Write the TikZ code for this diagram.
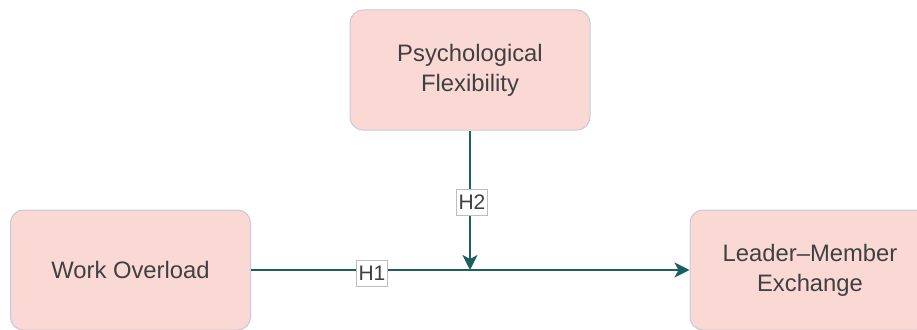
\documentclass[tikz,border=0pt]{standalone}
\usepackage{fontspec}
\setmainfont{Liberation Sans}
\usetikzlibrary{arrows.meta}
\definecolor{boxfill}{HTML}{FAD9D5}
\definecolor{boxline}{HTML}{C9C8DA}
\definecolor{edgecol}{HTML}{1C5F63}
\definecolor{txt}{HTML}{404040}
\definecolor{lblline}{HTML}{BDBDBD}
\tikzset{
  concept/.style={draw=boxline, line width=1pt, fill=boxfill, rounded corners=13pt,
    minimum width=240pt, minimum height=120pt, inner sep=0pt, align=center,
    text=txt, font=\fontsize{23.8}{30}\selectfont},
  link/.style={draw=edgecol, line width=2pt, -{Stealth[length=15pt,width=15pt,inset=4pt]}},
  hlabel/.style={draw=lblline, line width=0.8pt, fill=white, text=txt,
    minimum width=31pt, minimum height=26pt, inner sep=1pt,
    font=\fontsize{21}{22}\selectfont}
}
\begin{document}
\begin{tikzpicture}[x=1pt,y=-1pt]
\useasboundingbox (0,0) rectangle (917,329);
\node[concept] (pf) at (470,70) {Psychological\\Flexibility};
\node[concept] (wo) at (130.5,270) {Work Overload};
\node[concept] (lmx) at (810,270) {Leader–Member\\Exchange};
\coordinate (j) at (470,270);
\draw[link] (wo.east) -- (lmx.west);
\draw[link] (pf.south) -- (j);
\node[hlabel] (h1) at (372,273) {H1};
\node[hlabel] (h2) at (472,202) {H2};
\end{tikzpicture}
\end{document}
